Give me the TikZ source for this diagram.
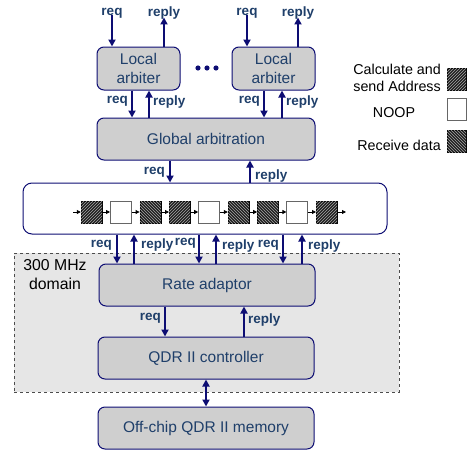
\documentclass[tikz,border=0pt]{standalone}
\usepackage{fontspec}
\setmainfont{Liberation Sans}
\usetikzlibrary{arrows.meta,patterns,calc}
\definecolor{navy}{HTML}{0D0D73}
\definecolor{boxtext}{HTML}{1F3F6A}
\definecolor{lbl}{HTML}{1F3F6A}
\definecolor{boxfill}{HTML}{CFCFCF}
\definecolor{domfill}{HTML}{E6E6E6}
\tikzset{
  blk/.style={draw=navy, line width=1pt, fill=boxfill, rounded corners=7pt, text=boxtext, font=\fontsize{15.5}{19.5}\selectfont, align=center, inner sep=0pt},
  arr/.style={draw=navy, line width=1.8pt, -{Triangle[length=7pt,width=7pt]}},
  darr/.style={draw=navy, line width=1.8pt, {Triangle[length=7pt,width=7pt]}-{Triangle[length=7pt,width=7pt]}},
  lab/.style={text=lbl, font=\bfseries\fontsize{13.5}{15}\selectfont, inner sep=0pt},
  sq/.style={minimum width=21pt, minimum height=22pt, inner sep=0pt},
  hne/.style={sq, draw=black, fill=black!88, postaction={pattern=north east lines, pattern color=black!35}},
  hnw/.style={sq, draw=black, fill=black!88, postaction={pattern=north west lines, pattern color=black!35}},
  emp/.style={sq, draw=black!60, fill=white, line width=0.8pt},
  qarr/.style={draw=black, line width=0.8pt, -{Triangle[length=4pt,width=4pt]}},
  leg/.style={font=\fontsize{14.3}{16.5}\selectfont, inner sep=0pt, align=right},
}
\begin{document}
\begin{tikzpicture}[x=1pt,y=-1pt]
\useasboundingbox (0,0) rectangle (469,453);
% domain
\node[draw=black!70, dashed, line width=0.8pt, fill=domfill, minimum width=385pt, minimum height=139pt, inner sep=0pt] (dom) at (206.5,322.5) {};
\node[font=\fontsize{15.8}{19}\selectfont, align=center, inner sep=0pt] (domlab) at (55,275) {300 MHz\\domain};
% blocks
\node[blk, minimum width=83pt, minimum height=43pt] (la1) at (138.5,68.5) {Local\\arbiter};
\node[blk, minimum width=83pt, minimum height=43pt] (la2) at (273.5,68.5) {Local\\arbiter};
\node[blk, minimum width=218pt, minimum height=42pt] (ga) at (206,139) {Global arbitration};
\node[draw=navy, line width=1pt, fill=white, rounded corners=9pt, minimum width=364pt, minimum height=51pt, inner sep=0pt] (q) at (205,208.5) {};
\node[blk, minimum width=216pt, minimum height=42pt] (ra) at (207,285) {Rate adaptor};
\node[blk, minimum width=216pt, minimum height=42pt] (qc) at (206,358) {QDR II controller};
\node[blk, minimum width=216pt, minimum height=42pt] (mem) at (206,428) {Off-chip QDR II memory};
% dots
\foreach \i/\x in {1/198,2/207,3/216} \fill[navy] (\x,68) circle (2.6pt) coordinate (dot\i);
% top labels and arrows
\node[lab] (t1) at (112,13) {req};
\node[lab] (t2) at (164,13) {reply};
\node[lab] (t3) at (247,13) {req};
\node[lab] (t4) at (298,13) {reply};
\draw[arr] ([yshift=3pt]t1.south) -- (t1.south |- la1.north);
\draw[arr] (t2.south |- la1.north) -- ([yshift=2pt]t2.south);
\draw[arr] ([yshift=3pt]t3.south) -- (t3.south |- la2.north);
\draw[arr] (t4.south |- la2.north) -- ([yshift=2pt]t4.south);
% local to global
\coordinate (a1) at (132,0); \coordinate (a2) at (149,0);
\coordinate (a3) at (264,0); \coordinate (a4) at (282,0);
\draw[arr] (la1.south -| a1) -- (ga.north -| a1);
\draw[arr] (ga.north -| a2) -- (la1.south -| a2);
\draw[arr] (la2.south -| a3) -- (ga.north -| a3);
\draw[arr] (ga.north -| a4) -- (la2.south -| a4);
\node[lab, anchor=east] (l1) at (128,101) {req};
\node[lab, anchor=west] (l2) at (153,102) {reply};
\node[lab, anchor=east] (l3) at (260,101) {req};
\node[lab, anchor=west] (l4) at (286,102) {reply};
% global to queue
\coordinate (b1) at (170,0); \coordinate (b2) at (250,0);
\draw[arr] (ga.south -| b1) -- (q.north -| b1);
\draw[arr] (q.north -| b2) -- (ga.south -| b2);
\node[lab, anchor=east] (g1) at (165,172) {req};
\node[lab, anchor=west] (g2) at (255,176) {reply};
% queue squares
\foreach \i/\s in {0/hne,1/emp,2/hnw,3/hne,4/emp,5/hnw,6/hnw,7/emp,8/hne}
  \node[\s] (s\i) at ({91.5+29.4*\i},212) {};
\coordinate (qin) at (73,212);
\coordinate (qout) at (346,212);
\draw[qarr] (qin) -- (s0.west);
\foreach \i [evaluate=\i as \j using int(\i+1)] in {0,...,7}
  \draw[qarr] (s\i.east) -- (s\j.west);
\draw[qarr] (s8.east) -- (qout);
% queue to rate adaptor
\foreach \k/\xr/\xp in {1/117/134,2/199/216,3/283/302}{
  \coordinate (cr\k) at (\xr,0); \coordinate (cp\k) at (\xp,0);
  \draw[arr] (q.south -| cr\k) -- (ra.north -| cr\k);
  \draw[arr] (ra.north -| cp\k) -- (q.south -| cp\k);
}
\node[lab, anchor=east] (r1) at (112,245) {req};
\node[lab, anchor=west] (p1) at (141,245) {reply};
\node[lab, anchor=east] (r2) at (196,243) {req};
\node[lab, anchor=west] (p2) at (222,246) {reply};
\node[lab, anchor=east] (r3) at (279,245) {req};
\node[lab, anchor=west] (p3) at (308,246) {reply};
% rate adaptor to controller
\coordinate (d1) at (165,0); \coordinate (d2) at (244,0);
\draw[arr] (ra.south -| d1) -- (qc.north -| d1);
\draw[arr] (qc.north -| d2) -- (ra.south -| d2);
\node[lab, anchor=east] (e1) at (161,318) {req};
\node[lab, anchor=west] (e2) at (248,320) {reply};
% controller to memory
\draw[darr] (qc.south) -- (mem.north);
% legend
\node[leg, anchor=east] (lg1) at (441,78) {Calculate and\\send Address};
\node[hne, minimum width=19pt, minimum height=22pt] (lb1) at (456.5,79) {};
\node[leg, anchor=center] (lg2) at (394,113) {NOOP};
\node[emp, minimum width=19pt, minimum height=22pt] (lb2) at (456.5,109) {};
\node[leg, anchor=east] (lg3) at (441,145) {Receive data};
\node[hnw, minimum width=19pt, minimum height=22pt] (lb3) at (456.5,141.5) {};
\end{tikzpicture}
\end{document}
